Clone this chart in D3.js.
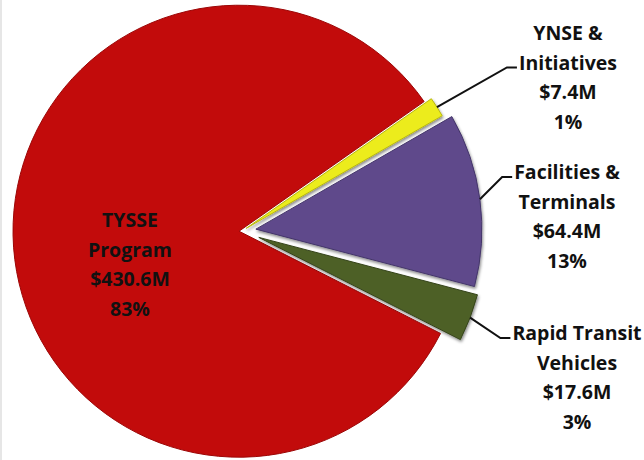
<!DOCTYPE html>
<html>
<head>
<meta charset="utf-8">
<title>TYSSE budget pie</title>
<script src="https://cdn.jsdelivr.net/npm/d3@7"></script>
<style>
  body { margin: 0; background: #fff; }
  text { font-family: "Open Sans", Lato, sans-serif; font-weight: bold; fill: #111; }
</style>
</head>
<body>
<div id="chart"></div>
<script>
// data
var categories = ["TYSSE Program", "YNSE & Initiatives", "Facilities & Terminals", "Rapid Transit Vehicles"];
var values = [430.6, 7.4, 64.4, 17.6];          // $M
var percents = ["83%", "1%", "13%", "3%"];
var labelLines = [
  ["TYSSE", "Program"],
  ["YNSE &", "Initiatives"],
  ["Facilities &", "Terminals"],
  ["Rapid Transit", "Vehicles"]
];
var colors = ["#c20b0b", "#ecec1c", "#5e4a8b", "#4e6127"];
var strokes = ["#9c0606", "#b8b810", "#45366a", "#35441a"];

// layout
var width = 644, height = 460;
var cx = 242, cy = 231, radius = 226;
var explode = [3, 5, 14, 18];
// label anchors (centre x, first line centre y) and which line the leader points at
var labelPos = [[130, 220, -1], [568, 33, 1], [567, 172, 0], [577, 333, 0]];
var lineGap = 29.5;

var svg = d3.select("#chart").append("svg")
    .attr("width", width)
    .attr("height", height);

var defs = svg.append("defs");
var f = defs.append("filter").attr("id", "shadow")
    .attr("x", "-10%").attr("y", "-10%").attr("width", "130%").attr("height", "130%");
f.append("feDropShadow").attr("dx", 1).attr("dy", 2)
    .attr("stdDeviation", 1.5).attr("flood-color", "#000").attr("flood-opacity", 0.45);

svg.append("line").attr("x1", 1).attr("x2", 1).attr("y1", 0).attr("y2", height)
    .attr("stroke", "#e6e6e6").attr("stroke-width", 2);

var toRad = Math.PI / 180;
var total = d3.sum(values);
var firstSpan = values[0] / total * 360;
var start = (55 - firstSpan) * toRad;

var pie = d3.pie().sort(null).startAngle(start).endAngle(start + 2 * Math.PI);
var arcs = pie(values);
var arc = d3.arc().innerRadius(0).outerRadius(radius);

function offset(d, i) {
  var m = (d.startAngle + d.endAngle) / 2;
  return [cx + explode[i] * Math.sin(m), cy - explode[i] * Math.cos(m)];
}

var slices = svg.append("g").selectAll("g.slice")
  .data(arcs)
  .enter().append("g")
    .attr("class", "slice")
    .attr("transform", function(d, i) { var o = offset(d, i); return "translate(" + o[0] + "," + o[1] + ")"; });

slices.append("path")
    .attr("d", arc)
    .attr("fill", function(d, i) { return colors[i]; })
    .attr("stroke", function(d, i) { return strokes[i]; })
    .attr("stroke-width", 1)
    .attr("filter", function(d, i) { return i === 0 ? null : "url(#shadow)"; });

// labels
var labels = svg.append("g");
arcs.forEach(function(d, i) {
  var lines = labelLines[i].concat(["$" + values[i].toFixed(1) + "M", percents[i]]);
  var p = labelPos[i];
  var g = labels.append("g");
  var texts = lines.map(function(s, k) {
    return g.append("text")
      .attr("x", p[0])
      .attr("y", p[1] + k * lineGap + 7)
      .attr("text-anchor", "middle")
      .style("font-size", "19.5px")
      .text(s);
  });
  if (p[2] >= 0) {
    var t = texts[p[2]];
    var w = t.node().getComputedTextLength();
    var ex = p[0] - w / 2 - 2;
    var ey = p[1] + p[2] * lineGap + 5;
    var o = offset(d, i);
    var m = (d.startAngle + d.endAngle) / 2;
    var sx = o[0] + radius * Math.sin(m);
    var sy = o[1] - radius * Math.cos(m);
    svg.append("polyline")
      .attr("points", [[sx, sy], [ex - 10, ey], [ex, ey]].map(function(q) { return q.join(","); }).join(" "))
      .attr("fill", "none")
      .attr("stroke", "#111")
      .attr("stroke-width", 2);
  }
});
</script>
</body>
</html>
